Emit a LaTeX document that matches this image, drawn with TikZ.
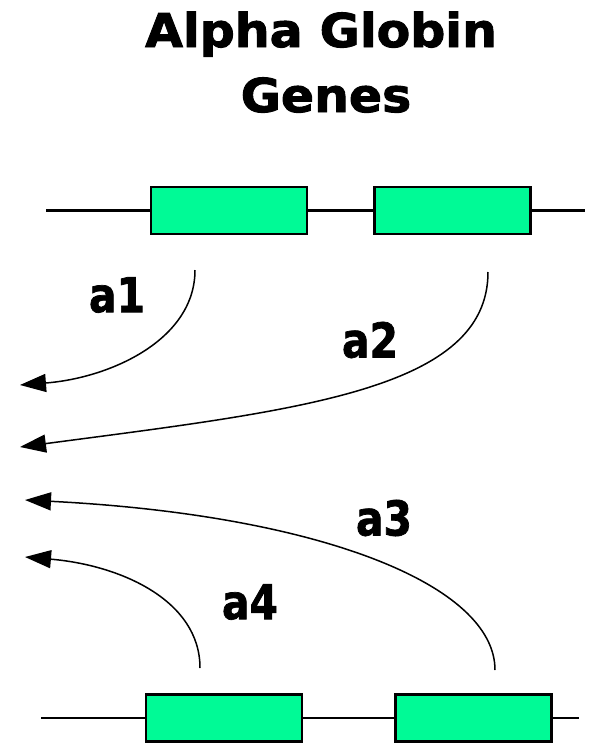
\documentclass[tikz,border=0pt]{standalone}
\usepackage{fontspec}
\usetikzlibrary{arrows.meta}
\newfontfamily\titlefont[FakeStretch=1.05,FakeBold=2]{DejaVu Sans}
\newfontfamily\lblfont[FakeStretch=0.85,FakeBold=1.5]{DejaVu Sans}
\definecolor{genegreen}{RGB}{0,250,150}
\begin{document}
\begin{tikzpicture}[x=1pt,y=-1pt,
  gene/.style={draw=black, line width=2.2pt, fill=genegreen, minimum width=156pt, minimum height=47pt, inner sep=0pt},
  dna/.style={line width=2.2pt},
  trans/.style={line width=1.5pt, -{Triangle[length=26pt,width=18pt]}},
  lbl/.style={font=\lblfont\bfseries\fontsize{48}{48}\selectfont, inner sep=0pt},
  ttl/.style={font=\titlefont\bfseries\fontsize{46.6}{50}\selectfont, inner sep=0pt, anchor=base}]
\useasboundingbox (0,0) rectangle (598,753);
% title
\node[ttl] (t1) at (321,47) {Alpha Globin};
\node[ttl] (t2) at (326,112) {Genes};
% top gene pair
\node[gene] (g1) at (229,210.5) {};
\node[gene] (g2) at (452.5,210.5) {};
\coordinate (tL) at (46,210.5);
\coordinate (tR) at (585,210.5);
\draw[dna] (tL) -- (g1.west) (g1.east) -- (g2.west) (g2.east) -- (tR);
% bottom gene pair
\node[gene] (g3) at (224,718) {};
\node[gene] (g4) at (473.5,718) {};
\coordinate (bL) at (41,718);
\coordinate (bR) at (579,718);
\draw[dna] (bL) -- (g3.west) (g3.east) -- (g4.west) (g4.east) -- (bR);
% transcript arrows
\coordinate (s1) at (195,270);
\coordinate (e1) at (20,385);
\coordinate (s2) at (488,272);
\coordinate (e2) at (20,447);
\coordinate (s3) at (495,670);
\coordinate (e3) at (25,500);
\coordinate (s4) at (200,668);
\coordinate (e4) at (25,557);
\draw[trans] (s1) .. controls (195,340) and (110,378) .. (e1);
\draw[trans] (s2) .. controls (488,390) and (300,410) .. (e2);
\draw[trans] (s3) .. controls (495,585) and (320,515) .. (e3);
\draw[trans] (s4) .. controls (200,600) and (120,565) .. (e4);
% labels
\node[lbl] (l1) at (117,295) {a1};
\node[lbl] (l2) at (370,340) {a2};
\node[lbl] (l3) at (384,518) {a3};
\node[lbl] (l4) at (250,602) {a4};
\end{tikzpicture}
\end{document}
